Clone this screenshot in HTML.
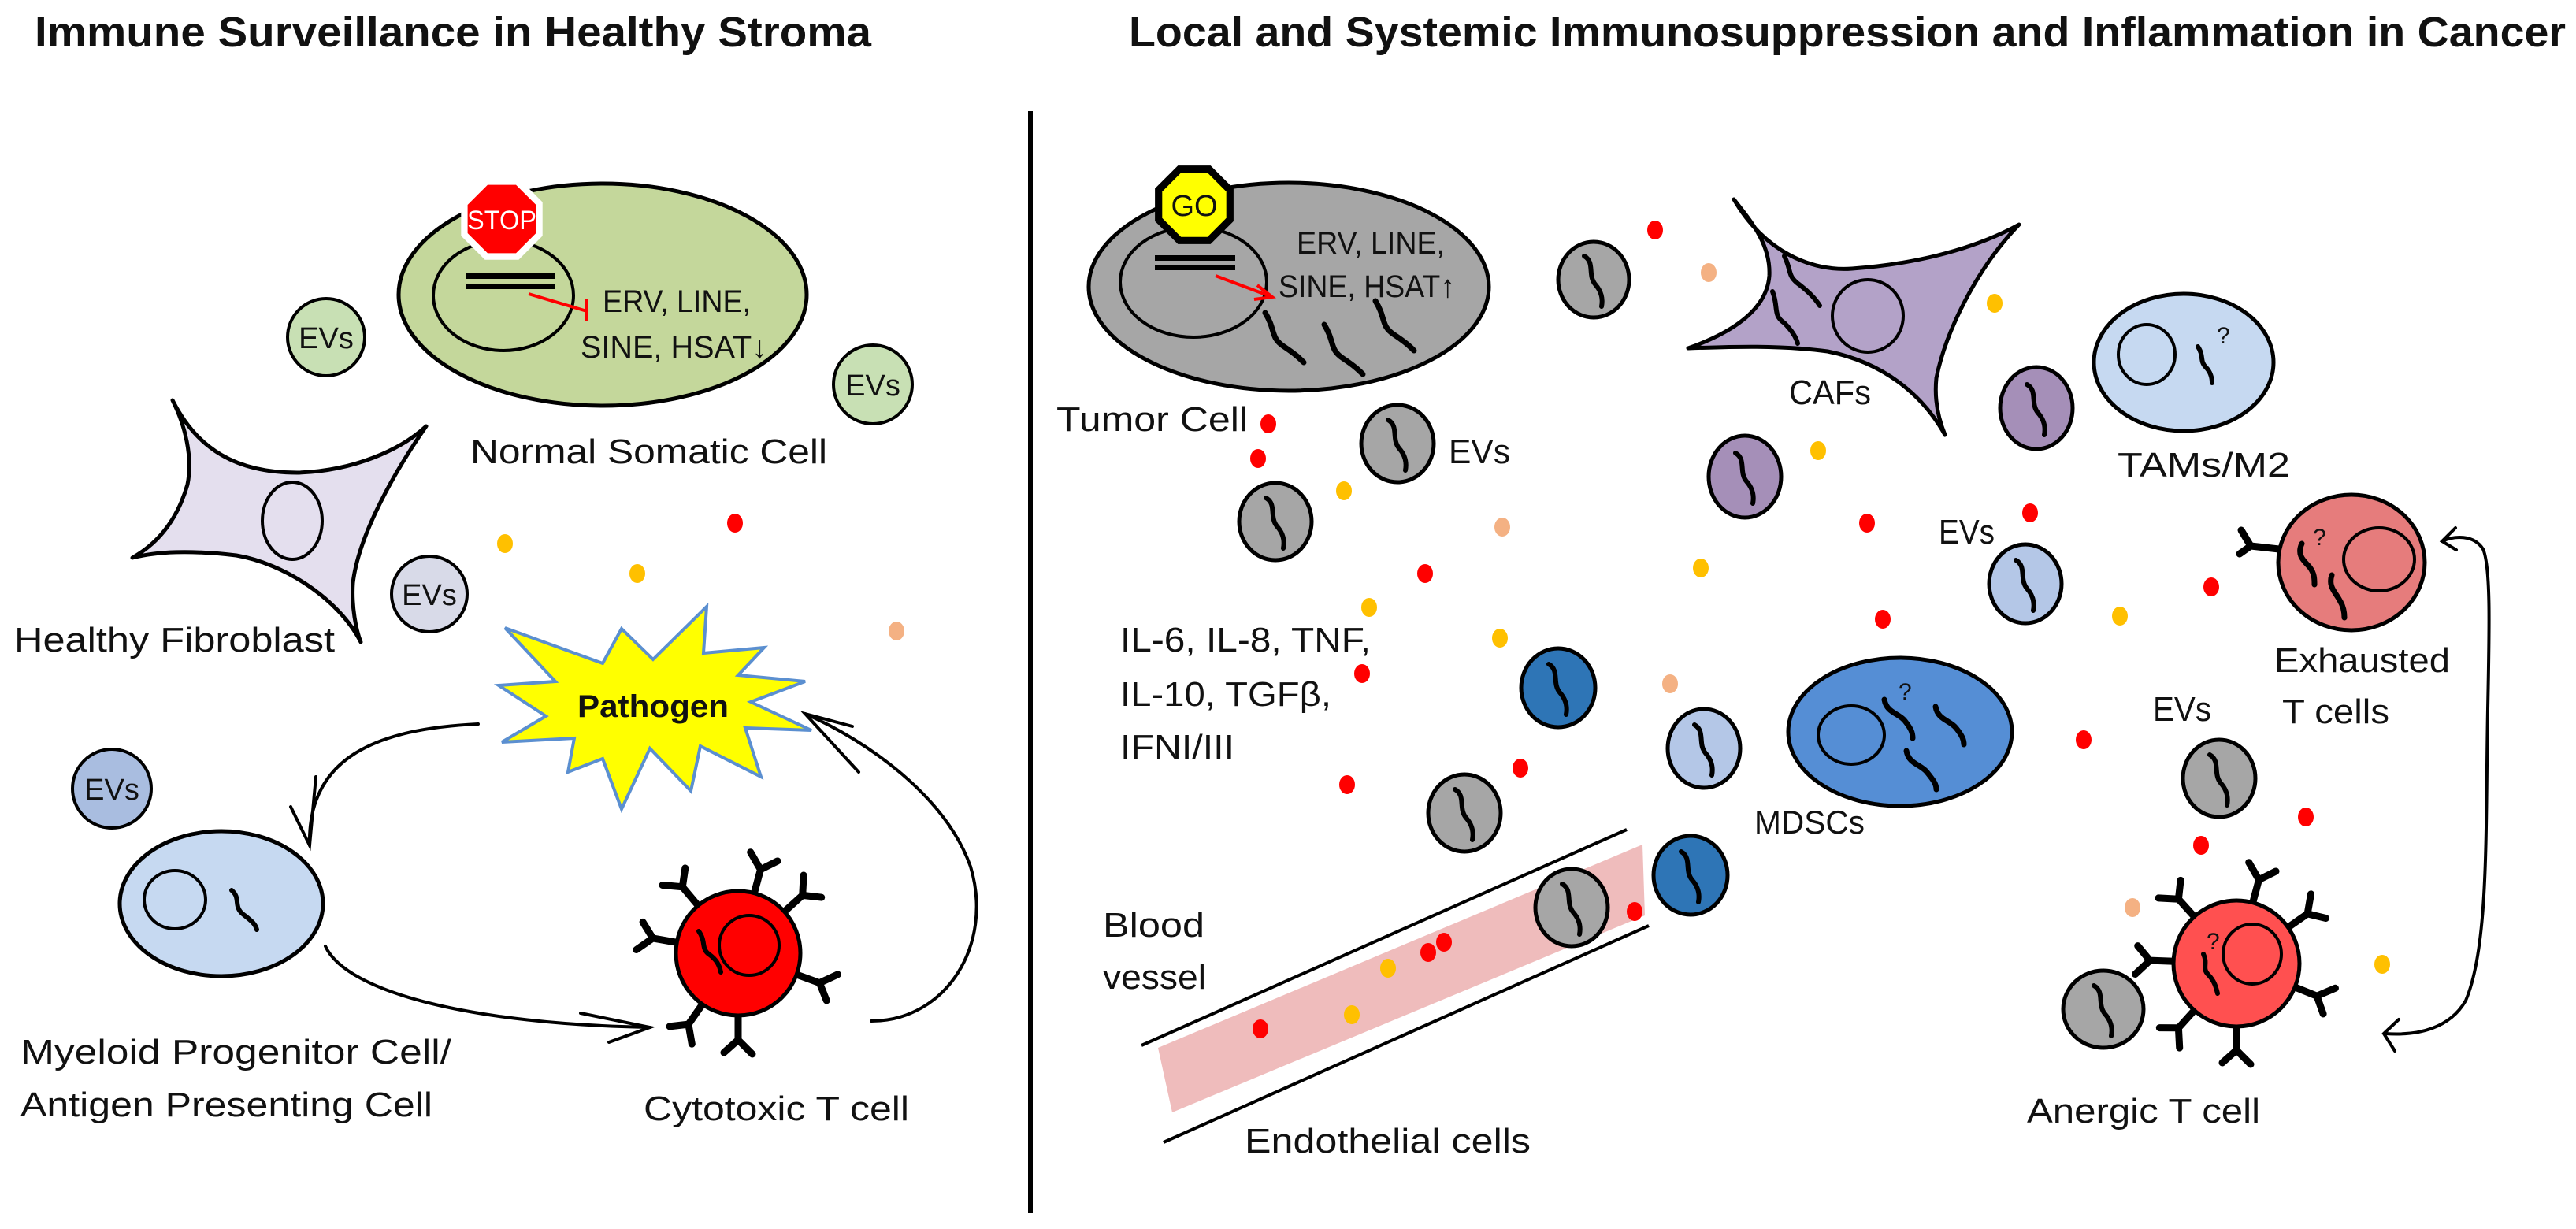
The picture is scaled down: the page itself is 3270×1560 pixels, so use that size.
<!DOCTYPE html>
<html><head><meta charset="utf-8"><style>
html,body{margin:0;padding:0;background:#fff}
svg{display:block}
text{font-family:"Liberation Sans",sans-serif;fill:#111}
</style></head><body>
<svg width="3270" height="1560" viewBox="0 0 3270 1560" xmlns="http://www.w3.org/2000/svg">
<defs>
<g id="sq"><path d="M-12,-30 C2,-22 -8,-6 2,6 C10,15 12,24 10,34" fill="none" stroke="#000" stroke-width="6" stroke-linecap="round"/></g>
<g id="rc"><path d="M0,-76 V-110 M0,-110 L-18,-128 M0,-110 L18,-126" fill="none" stroke="#000" stroke-width="9" stroke-linecap="round"/></g>
</defs>

<!-- Titles -->
<text x="44" y="59" font-size="54" font-weight="bold" textLength="1062" lengthAdjust="spacingAndGlyphs">Immune Surveillance in Healthy Stroma</text>
<text x="1433" y="59" font-size="54" font-weight="bold" textLength="1824" lengthAdjust="spacingAndGlyphs">Local and Systemic Immunosuppression and Inflammation in Cancer</text>
<line x1="1308" y1="141" x2="1308" y2="1540" stroke="#000" stroke-width="6"/>

<!-- LEFT PANEL -->
<ellipse cx="765" cy="374" rx="259" ry="141" fill="#c4d79b" stroke="#000" stroke-width="5"/>
<ellipse cx="639" cy="375" rx="89" ry="70" fill="#c4d79b" stroke="#000" stroke-width="4"/>
<polygon points="688.7,256.6 658.4,226.3 615.6,226.3 585.3,256.6 585.3,299.4 615.6,329.7 658.4,329.7 688.7,299.4" fill="#fff"/>
<polygon points="680.4,260 655,234.6 619,234.6 593.6,260 593.6,296 619,321.4 655,321.4 680.4,296" fill="#ff0000"/>
<text x="637" y="291" font-size="34" text-anchor="middle" style="fill:#fff" textLength="88" lengthAdjust="spacingAndGlyphs">STOP</text>
<rect x="591" y="347" width="113" height="7" fill="#000"/>
<rect x="591" y="360" width="113" height="7" fill="#000"/>
<path d="M671,373 L745,395 M745,380 V408" stroke="#ff0000" stroke-width="4" fill="none"/>
<text x="765" y="396" font-size="40" textLength="188" lengthAdjust="spacingAndGlyphs">ERV, LINE,</text>
<text x="737" y="454" font-size="40" textLength="237" lengthAdjust="spacingAndGlyphs">SINE, HSAT↓</text>
<text x="597" y="588" font-size="44" textLength="453" lengthAdjust="spacingAndGlyphs">Normal Somatic Cell</text>

<circle cx="414" cy="428" r="49" fill="#c8e0b4" stroke="#000" stroke-width="4"/>
<text x="414" y="442" font-size="38" text-anchor="middle">EVs</text>
<circle cx="1108" cy="488" r="50" fill="#c8e0b4" stroke="#000" stroke-width="4"/>
<text x="1108" y="502" font-size="38" text-anchor="middle">EVs</text>

<path d="M219,508 C250,570 300,600 377,600 C450,598 510,570 541,541 C500,600 455,680 448,740 C446,770 452,800 458,815 C430,760 360,715 300,705 C240,698 200,700 168,708 C200,690 225,660 238,615 C245,580 235,540 219,508 Z" fill="#e4dfee" stroke="#000" stroke-width="5" stroke-linejoin="round"/>
<ellipse cx="371" cy="661" rx="38" ry="49" fill="#e4dfee" stroke="#000" stroke-width="4"/>
<text x="18" y="827" font-size="44" textLength="407" lengthAdjust="spacingAndGlyphs">Healthy Fibroblast</text>

<circle cx="545" cy="754" r="48" fill="#d8dae8" stroke="#000" stroke-width="4"/>
<text x="545" y="768" font-size="38" text-anchor="middle">EVs</text>

<polygon points="641,797 765,842 789,798 829,837 897,770 893,829 970,822 937,857 1022,865 953,891 1030,927 946,924 966,986 889,947 877,1004 825,950 789,1027 765,963 721,980 729,937 637,942 693,909 633,870 705,865" fill="#ffff00" stroke="#5b8fd0" stroke-width="4" stroke-linejoin="miter"/>
<text x="733" y="910" font-size="40" font-weight="bold" textLength="192" lengthAdjust="spacingAndGlyphs">Pathogen</text>

<circle cx="142" cy="1001" r="50" fill="#a9bde0" stroke="#000" stroke-width="4"/>
<text x="142" y="1015" font-size="38" text-anchor="middle">EVs</text>

<ellipse cx="281" cy="1147" rx="129" ry="92" fill="#c6d9f1" stroke="#000" stroke-width="5"/>
<ellipse cx="222" cy="1142" rx="39" ry="37" fill="#c6d9f1" stroke="#000" stroke-width="4"/>
<path d="M294,1130 C306,1140 296,1150 308,1160 C318,1168 324,1172 326,1180" fill="none" stroke="#000" stroke-width="6" stroke-linecap="round"/>
<text x="26" y="1350" font-size="44" textLength="547" lengthAdjust="spacingAndGlyphs">Myeloid Progenitor Cell/</text>
<text x="26" y="1417" font-size="44" textLength="523" lengthAdjust="spacingAndGlyphs">Antigen Presenting Cell</text>

<!-- T cell -->
<g transform="translate(937,1210)">
<use href="#rc" transform="rotate(15)"/><use href="#rc" transform="rotate(48)"/><use href="#rc" transform="rotate(110)"/>
<use href="#rc" transform="rotate(180)"/><use href="#rc" transform="rotate(215)"/><use href="#rc" transform="rotate(280)"/><use href="#rc" transform="rotate(320)"/>
<circle r="79" fill="#ff0000" stroke="#000" stroke-width="5"/>
<circle cx="14" cy="-10" r="38" fill="#ff0000" stroke="#000" stroke-width="4"/>
<path d="M-50,-28 C-40,-14 -48,-6 -36,2 C-28,8 -24,14 -22,24" fill="none" stroke="#000" stroke-width="6" stroke-linecap="round"/>
</g>
<text x="817" y="1422" font-size="44" textLength="337" lengthAdjust="spacingAndGlyphs">Cytotoxic T cell</text>

<!-- left arrows -->
<g fill="none" stroke="#000" stroke-width="4" stroke-linecap="round">
<path d="M607,919 C480,925 390,960 393,1073"/>
<path d="M369,1024 L393,1073 L401,986"/>
<path d="M413,1201 C440,1260 600,1300 825,1304"/>
<path d="M737,1286 L825,1304 L773,1323"/>
<path d="M1106,1296 C1200,1296 1262,1200 1232,1100 C1200,1010 1100,940 1022,906"/>
<path d="M1082,922 L1022,906 L1090,980"/>
</g>

<!-- RIGHT PANEL -->
<polygon points="1470,1330 2085,1072 2088,1162 1488,1412" fill="#edb5b5" opacity="0.9"/>
<line x1="1449" y1="1327" x2="2065" y2="1053" stroke="#000" stroke-width="4"/>
<line x1="1477" y1="1450" x2="2093" y2="1175" stroke="#000" stroke-width="4"/>

<ellipse cx="1636" cy="364" rx="254" ry="132" fill="#a6a6a6" stroke="#000" stroke-width="5"/>
<ellipse cx="1515" cy="358" rx="93" ry="70" fill="#a6a6a6" stroke="#000" stroke-width="4"/>
<polygon points="1565.9,239.3 1536.7,210.1 1495.3,210.1 1466.1,239.3 1466.1,280.7 1495.3,309.9 1536.7,309.9 1565.9,280.7" fill="#000"/>
<polygon points="1556.7,243.2 1532.8,219.3 1499.2,219.3 1475.3,243.2 1475.3,276.8 1499.2,300.7 1532.8,300.7 1556.7,276.8" fill="#ffff00"/>
<text x="1516" y="274" font-size="38" text-anchor="middle">GO</text>
<rect x="1466" y="324" width="102" height="7" fill="#000"/>
<rect x="1466" y="336" width="102" height="7" fill="#000"/>
<path d="M1543,350 L1615,377 M1596,362 L1615,377 L1592,380" stroke="#ff0000" stroke-width="4" fill="none"/>
<text x="1646" y="322" font-size="40" textLength="188" lengthAdjust="spacingAndGlyphs">ERV, LINE,</text>
<text x="1623" y="377" font-size="40" textLength="224" lengthAdjust="spacingAndGlyphs">SINE, HSAT↑</text>
<g fill="none" stroke="#000" stroke-width="7" stroke-linecap="round">
<path d="M1606,397 C1620,420 1612,428 1630,440 C1645,450 1650,455 1655,460"/>
<path d="M1681,412 C1695,435 1687,443 1705,455 C1720,465 1725,470 1730,475"/>
<path d="M1746,382 C1760,405 1752,413 1770,425 C1785,435 1790,440 1795,445"/>
</g>
<text x="1341" y="547" font-size="44" textLength="243" lengthAdjust="spacingAndGlyphs">Tumor Cell</text>

<path d="M2201,253 C2240,320 2300,345 2351,341 C2420,336 2500,320 2563,285 C2510,340 2470,420 2458,480 C2455,510 2462,535 2469,552 C2440,500 2390,460 2320,446 C2260,438 2200,440 2143,442 C2205,420 2243,390 2246,350 C2248,310 2222,280 2201,253 Z" fill="#b3a2c8" stroke="#000" stroke-width="5" stroke-linejoin="round"/>
<ellipse cx="2371" cy="401" rx="45" ry="46" fill="#b3a2c8" stroke="#000" stroke-width="4"/>
<g fill="none" stroke="#000" stroke-width="6" stroke-linecap="round">
<path d="M2265,325 C2275,345 2268,350 2285,362 C2298,372 2305,380 2310,388"/>
<path d="M2250,370 C2258,390 2250,400 2265,410 C2275,420 2280,428 2282,436"/>
</g>
<text x="2271" y="513" font-size="44" textLength="104" lengthAdjust="spacingAndGlyphs">CAFs</text>

<ellipse cx="2772" cy="460" rx="114" ry="87" fill="#c6d9f1" stroke="#000" stroke-width="5"/>
<ellipse cx="2725" cy="450" rx="36" ry="38" fill="#c6d9f1" stroke="#000" stroke-width="4"/>
<path d="M2790,440 C2798,452 2792,458 2800,466 C2806,472 2808,480 2808,486" fill="none" stroke="#000" stroke-width="6" stroke-linecap="round"/>
<text x="2814" y="436" font-size="30">?</text>
<text x="2688" y="605" font-size="44" textLength="219" lengthAdjust="spacingAndGlyphs">TAMs/M2</text>

<text x="1839" y="588" font-size="44" textLength="78" lengthAdjust="spacingAndGlyphs">EVs</text>
<text x="2461" y="690" font-size="44" textLength="71" lengthAdjust="spacingAndGlyphs">EVs</text>
<text x="2733" y="915" font-size="44" textLength="74" lengthAdjust="spacingAndGlyphs">EVs</text>

<!-- Exhausted T -->
<path d="M2893,697 L2857,693 M2857,693 L2845,673 M2857,693 L2843,703" fill="none" stroke="#000" stroke-width="9" stroke-linecap="round"/>
<ellipse cx="2985" cy="714" rx="93" ry="86" fill="#e67c7c" stroke="#000" stroke-width="5"/>
<ellipse cx="3020" cy="710" rx="45" ry="40" fill="#e67c7c" stroke="#000" stroke-width="4"/>
<g fill="none" stroke="#000" stroke-width="7" stroke-linecap="round">
<path d="M2922,690 C2915,705 2925,712 2932,720 C2938,728 2938,735 2938,742"/>
<path d="M2960,730 C2955,745 2965,752 2970,762 C2975,770 2976,778 2976,784"/>
</g>
<text x="2936" y="692" font-size="30">?</text>
<text x="2887" y="853" font-size="44" textLength="223" lengthAdjust="spacingAndGlyphs">Exhausted</text>
<text x="2897" y="918" font-size="44" textLength="136" lengthAdjust="spacingAndGlyphs">T cells</text>

<g fill="none" stroke="#000" stroke-width="4" stroke-linecap="round">
<path d="M3100,687 C3115,680 3140,678 3152,697 C3162,720 3160,800 3158,900 C3155,1050 3160,1200 3130,1270 C3110,1305 3070,1315 3028,1312"/>
<path d="M3117,670 L3100,687 L3118,698"/>
<path d="M3045,1294 L3026,1312 L3040,1334"/>
</g>

<ellipse cx="2412" cy="929" rx="142" ry="94" fill="#558ed5" stroke="#000" stroke-width="5"/>
<ellipse cx="2350" cy="933" rx="42" ry="37" fill="#558ed5" stroke="#000" stroke-width="4"/>
<g fill="none" stroke="#000" stroke-width="7" stroke-linecap="round">
<path d="M2392,888 C2395,905 2410,905 2418,915 C2426,925 2428,930 2428,937"/>
<path d="M2457,897 C2460,914 2475,914 2483,924 C2491,934 2493,939 2493,945"/>
<path d="M2420,953 C2423,970 2438,970 2446,980 C2454,990 2458,995 2458,1002"/>
</g>
<text x="2410" y="888" font-size="30">?</text>
<text x="2227" y="1058" font-size="42" textLength="140" lengthAdjust="spacingAndGlyphs">MDSCs</text>

<text x="1422" y="827" font-size="44" textLength="318" lengthAdjust="spacingAndGlyphs">IL-6, IL-8, TNF,</text>
<text x="1422" y="896" font-size="44" textLength="268" lengthAdjust="spacingAndGlyphs">IL-10, TGFβ,</text>
<text x="1422" y="963" font-size="44" textLength="145" lengthAdjust="spacingAndGlyphs">IFNI/III</text>
<text x="1400" y="1189" font-size="44" textLength="129" lengthAdjust="spacingAndGlyphs">Blood</text>
<text x="1400" y="1255" font-size="44" textLength="131" lengthAdjust="spacingAndGlyphs">vessel</text>
<text x="1580" y="1463" font-size="44" textLength="363" lengthAdjust="spacingAndGlyphs">Endothelial cells</text>

<!-- Anergic T cell -->
<g transform="translate(2839,1223)">
<use href="#rc" transform="rotate(15)"/><use href="#rc" transform="rotate(55)"/><use href="#rc" transform="rotate(112)"/>
<use href="#rc" transform="rotate(180)"/><use href="#rc" transform="rotate(222)"/><use href="#rc" transform="rotate(272)"/><use href="#rc" transform="rotate(318)"/>
<circle r="80" fill="#ff5050" stroke="#000" stroke-width="5"/>
<ellipse cx="20" cy="-12" rx="37" ry="38" fill="#ff5050" stroke="#000" stroke-width="4"/>
<path d="M-42,-12 C-36,0 -44,6 -36,14 C-28,22 -26,30 -24,38" fill="none" stroke="#000" stroke-width="6" stroke-linecap="round"/>
<text x="-38" y="-18" font-size="30">?</text>
</g>
<text x="2573" y="1425" font-size="44" textLength="296" lengthAdjust="spacingAndGlyphs">Anergic T cell</text>

<!-- EVs right -->
<g stroke="#000" stroke-width="5">
<g transform="translate(2023,355)"><ellipse rx="45" ry="48" fill="#a6a6a6"/><use href="#sq"/></g>
<g transform="translate(1774,563)"><ellipse rx="46" ry="49" fill="#a6a6a6"/><use href="#sq"/></g>
<g transform="translate(1619,662)"><ellipse rx="46" ry="49" fill="#a6a6a6"/><use href="#sq"/></g>
<g transform="translate(1859,1032)"><ellipse rx="46" ry="49" fill="#a6a6a6"/><use href="#sq"/></g>
<g transform="translate(2817,988)"><ellipse rx="46" ry="49" fill="#a6a6a6"/><use href="#sq"/></g>
<g transform="translate(1995,1152)"><ellipse rx="46" ry="49" fill="#a6a6a6"/><use href="#sq"/></g>
<g transform="translate(2670,1281)"><ellipse rx="51" ry="49" fill="#a6a6a6"/><use href="#sq"/></g>
<g transform="translate(2585,518)"><ellipse rx="46" ry="52" fill="#a58fb8"/><use href="#sq"/></g>
<g transform="translate(2215,605)"><ellipse rx="46" ry="52" fill="#a58fb8"/><use href="#sq"/></g>
<g transform="translate(2571,741)"><ellipse rx="46" ry="50" fill="#b4c7e7"/><use href="#sq"/></g>
<g transform="translate(2163,950)"><ellipse rx="46" ry="50" fill="#b4c7e7"/><use href="#sq"/></g>
<g transform="translate(1978,873)"><ellipse rx="47" ry="50" fill="#2e75b6"/><use href="#sq"/></g>
<g transform="translate(2146,1111)"><ellipse rx="47" ry="50" fill="#2e75b6"/><use href="#sq"/></g>
</g>

<!-- dots -->
<g>
<ellipse cx="641" cy="690" rx="10" ry="12" fill="#ffc000"/>
<ellipse cx="809" cy="728" rx="10" ry="12" fill="#ffc000"/>
<ellipse cx="933" cy="664" rx="10" ry="12" fill="#ff0000"/>
<ellipse cx="1138" cy="801" rx="10" ry="12" fill="#f4b183"/>
<ellipse cx="2101" cy="292" rx="10" ry="12" fill="#ff0000"/>
<ellipse cx="2169" cy="346" rx="10" ry="12" fill="#f4b183"/>
<ellipse cx="2532" cy="385" rx="10" ry="12" fill="#ffc000"/>
<ellipse cx="1610" cy="538" rx="10" ry="12" fill="#ff0000"/>
<ellipse cx="1597" cy="582" rx="10" ry="12" fill="#ff0000"/>
<ellipse cx="1706" cy="623" rx="10" ry="12" fill="#ffc000"/>
<ellipse cx="2308" cy="572" rx="10" ry="12" fill="#ffc000"/>
<ellipse cx="1907" cy="669" rx="10" ry="12" fill="#f4b183"/>
<ellipse cx="2370" cy="664" rx="10" ry="12" fill="#ff0000"/>
<ellipse cx="2577" cy="651" rx="10" ry="12" fill="#ff0000"/>
<ellipse cx="1809" cy="728" rx="10" ry="12" fill="#ff0000"/>
<ellipse cx="2159" cy="721" rx="10" ry="12" fill="#ffc000"/>
<ellipse cx="2807" cy="745" rx="10" ry="12" fill="#ff0000"/>
<ellipse cx="2691" cy="782" rx="10" ry="12" fill="#ffc000"/>
<ellipse cx="2390" cy="786" rx="10" ry="12" fill="#ff0000"/>
<ellipse cx="1738" cy="771" rx="10" ry="12" fill="#ffc000"/>
<ellipse cx="1904" cy="810" rx="10" ry="12" fill="#ffc000"/>
<ellipse cx="1729" cy="855" rx="10" ry="12" fill="#ff0000"/>
<ellipse cx="2120" cy="868" rx="10" ry="12" fill="#f4b183"/>
<ellipse cx="1930" cy="975" rx="10" ry="12" fill="#ff0000"/>
<ellipse cx="1710" cy="996" rx="10" ry="12" fill="#ff0000"/>
<ellipse cx="2645" cy="939" rx="10" ry="12" fill="#ff0000"/>
<ellipse cx="2927" cy="1037" rx="10" ry="12" fill="#ff0000"/>
<ellipse cx="2794" cy="1073" rx="10" ry="12" fill="#ff0000"/>
<ellipse cx="2707" cy="1152" rx="10" ry="12" fill="#f4b183"/>
<ellipse cx="3024" cy="1224" rx="10" ry="12" fill="#ffc000"/>
<ellipse cx="2075" cy="1157" rx="10" ry="12" fill="#ff0000"/>
<ellipse cx="1833" cy="1196" rx="10" ry="12" fill="#ff0000"/>
<ellipse cx="1813" cy="1209" rx="10" ry="12" fill="#ff0000"/>
<ellipse cx="1762" cy="1229" rx="10" ry="12" fill="#ffc000"/>
<ellipse cx="1716" cy="1288" rx="10" ry="12" fill="#ffc000"/>
<ellipse cx="1600" cy="1306" rx="10" ry="12" fill="#ff0000"/>
</g>
</svg>
</body></html>
